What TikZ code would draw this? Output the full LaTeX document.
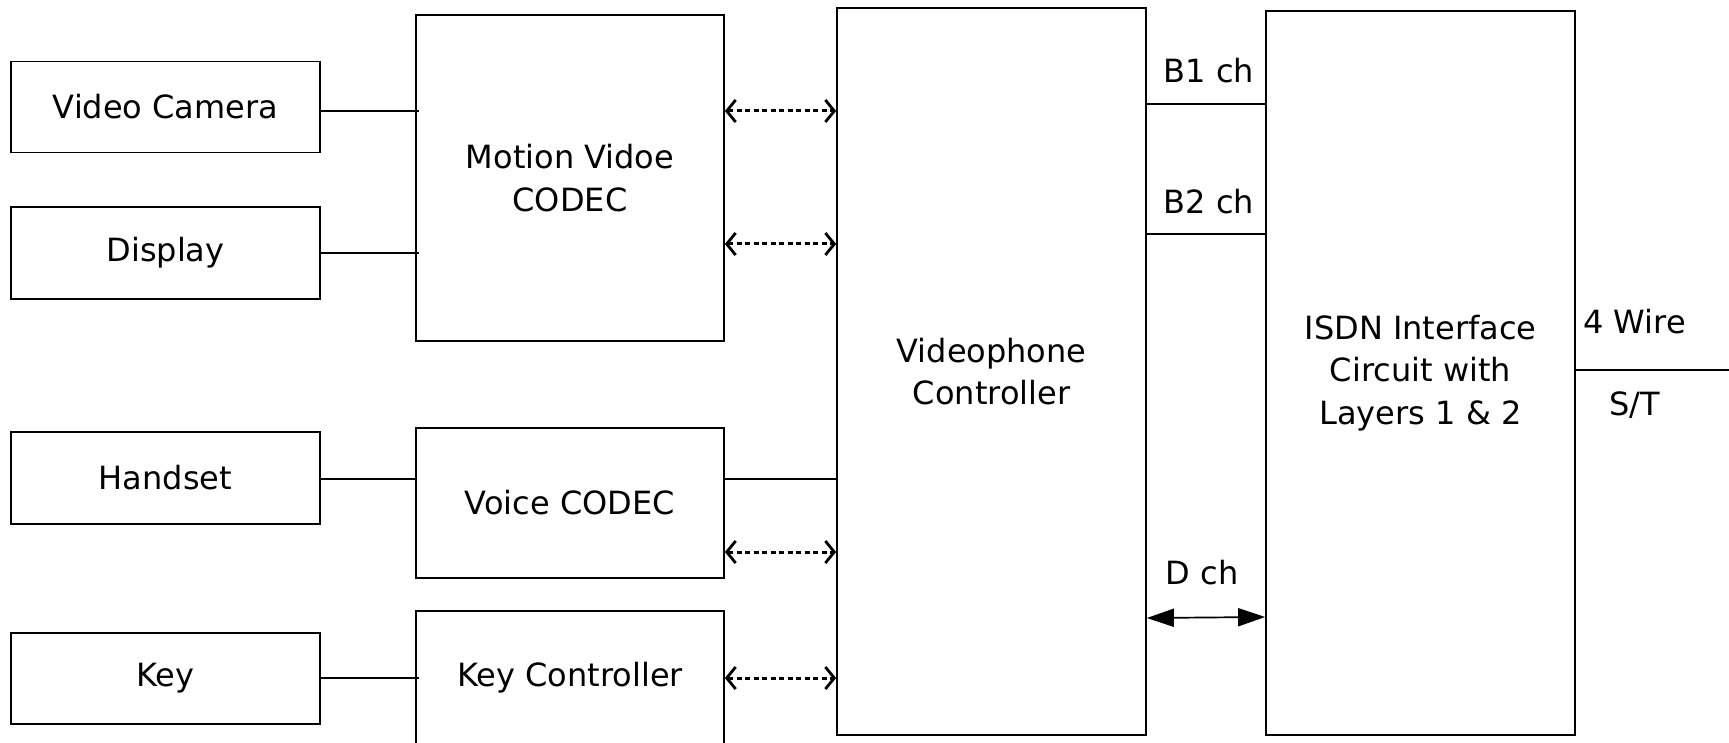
\documentclass[tikz,border=0pt]{standalone}
\usepackage{fontspec}
\setmainfont{DejaVu Sans}
\usetikzlibrary{arrows.meta}
\begin{document}
\begin{tikzpicture}[x=1pt,y=-1pt,
  box/.style={draw,line width=1.7pt,inner sep=0pt,align=center,font=\fontsize{32}{42.5}\selectfont},
  lbl/.style={inner sep=0pt,font=\fontsize{32}{42.5}\selectfont},
  wire/.style={line width=1.7pt},
  dotarrow/.style={line width=3pt,dash pattern=on 5pt off 3.5pt,{Straight Barb[length=9pt,width=22pt,line width=2.8pt]}-{Straight Barb[length=9pt,width=22pt,line width=2.8pt]}},
  darrow/.style={line width=1.7pt,{Triangle[length=27pt,width=18pt]}-{Triangle[length=27pt,width=18pt]}}
]
\useasboundingbox (0,0) rectangle (1729,743);
\clip (0,0) rectangle (1729,743);
% left boxes
\node[box,minimum width=309pt,minimum height=91pt] (cam) at (165.5,107) {Video Camera};
\node[box,minimum width=309pt,minimum height=92pt] (disp) at (165.5,253) {Display};
\node[box,minimum width=309pt,minimum height=92pt] (hand) at (165.5,478) {Handset};
\node[box,minimum width=309pt,minimum height=91pt] (key) at (165.5,678.5) {Key};
% codecs
\node[box,minimum width=308pt,minimum height=326pt] (mvc) at (570,178) {Motion Vidoe\\CODEC};
\node[box,minimum width=308pt,minimum height=150pt] (vc) at (570,503) {Voice CODEC};
\node[box,minimum width=308pt,minimum height=160pt] (kc) at (570,691) {};
\node[lbl] (kct) at (570,678) {Key Controller};
% controller
\node[box,minimum width=309pt,minimum height=727pt] (ctl) at (991.5,371.5) {Videophone\\Controller};
\node[box,minimum width=309pt,minimum height=724pt] (isdn) at (1420.5,373) {ISDN Interface\\Circuit with\\Layers 1 \& 2};
% left links
\draw[wire] (cam.east |- 0,111) -- (419,111);
\draw[wire] (disp.east |- 0,253) -- (419,253);
\draw[wire] (hand.east |- 0,479) -- (mvc.west |- 0,479);
\draw[wire] (key.east |- 0,678) -- (419,678);
\draw[wire] (vc.east |- 0,479) -- (ctl.west |- 0,479);
% dotted arrows
\draw[dotarrow] (mvc.east |- 0,111) -- (ctl.west |- 0,111);
\draw[dotarrow] (mvc.east |- 0,244) -- (ctl.west |- 0,244);
\draw[dotarrow] (vc.east |- 0,552) -- (ctl.west |- 0,552);
\draw[dotarrow] (kc.east |- 0,678) -- (ctl.west |- 0,678);
% channels
\draw[wire] (ctl.east |- 0,104) -- (isdn.west |- 0,104);
\draw[wire] (ctl.east |- 0,234) -- (isdn.west |- 0,234);
\draw[darrow] (ctl.east |- 0,618) -- (isdn.west |- 0,617);
\node[lbl] (b1) at (1209,71) {B1 ch};
\node[lbl] (b2) at (1209,202) {B2 ch};
\node[lbl] (dch) at (1202,573) {D ch};
% 4 wire
\coordinate (out) at (1729,370);
\draw[wire] (isdn.east |- out) -- (out);
\node[lbl,anchor=west] (fw) at (1583,322) {4 Wire};
\node[lbl,anchor=west] (st) at (1609,405) {S/T};
\end{tikzpicture}
\end{document}
